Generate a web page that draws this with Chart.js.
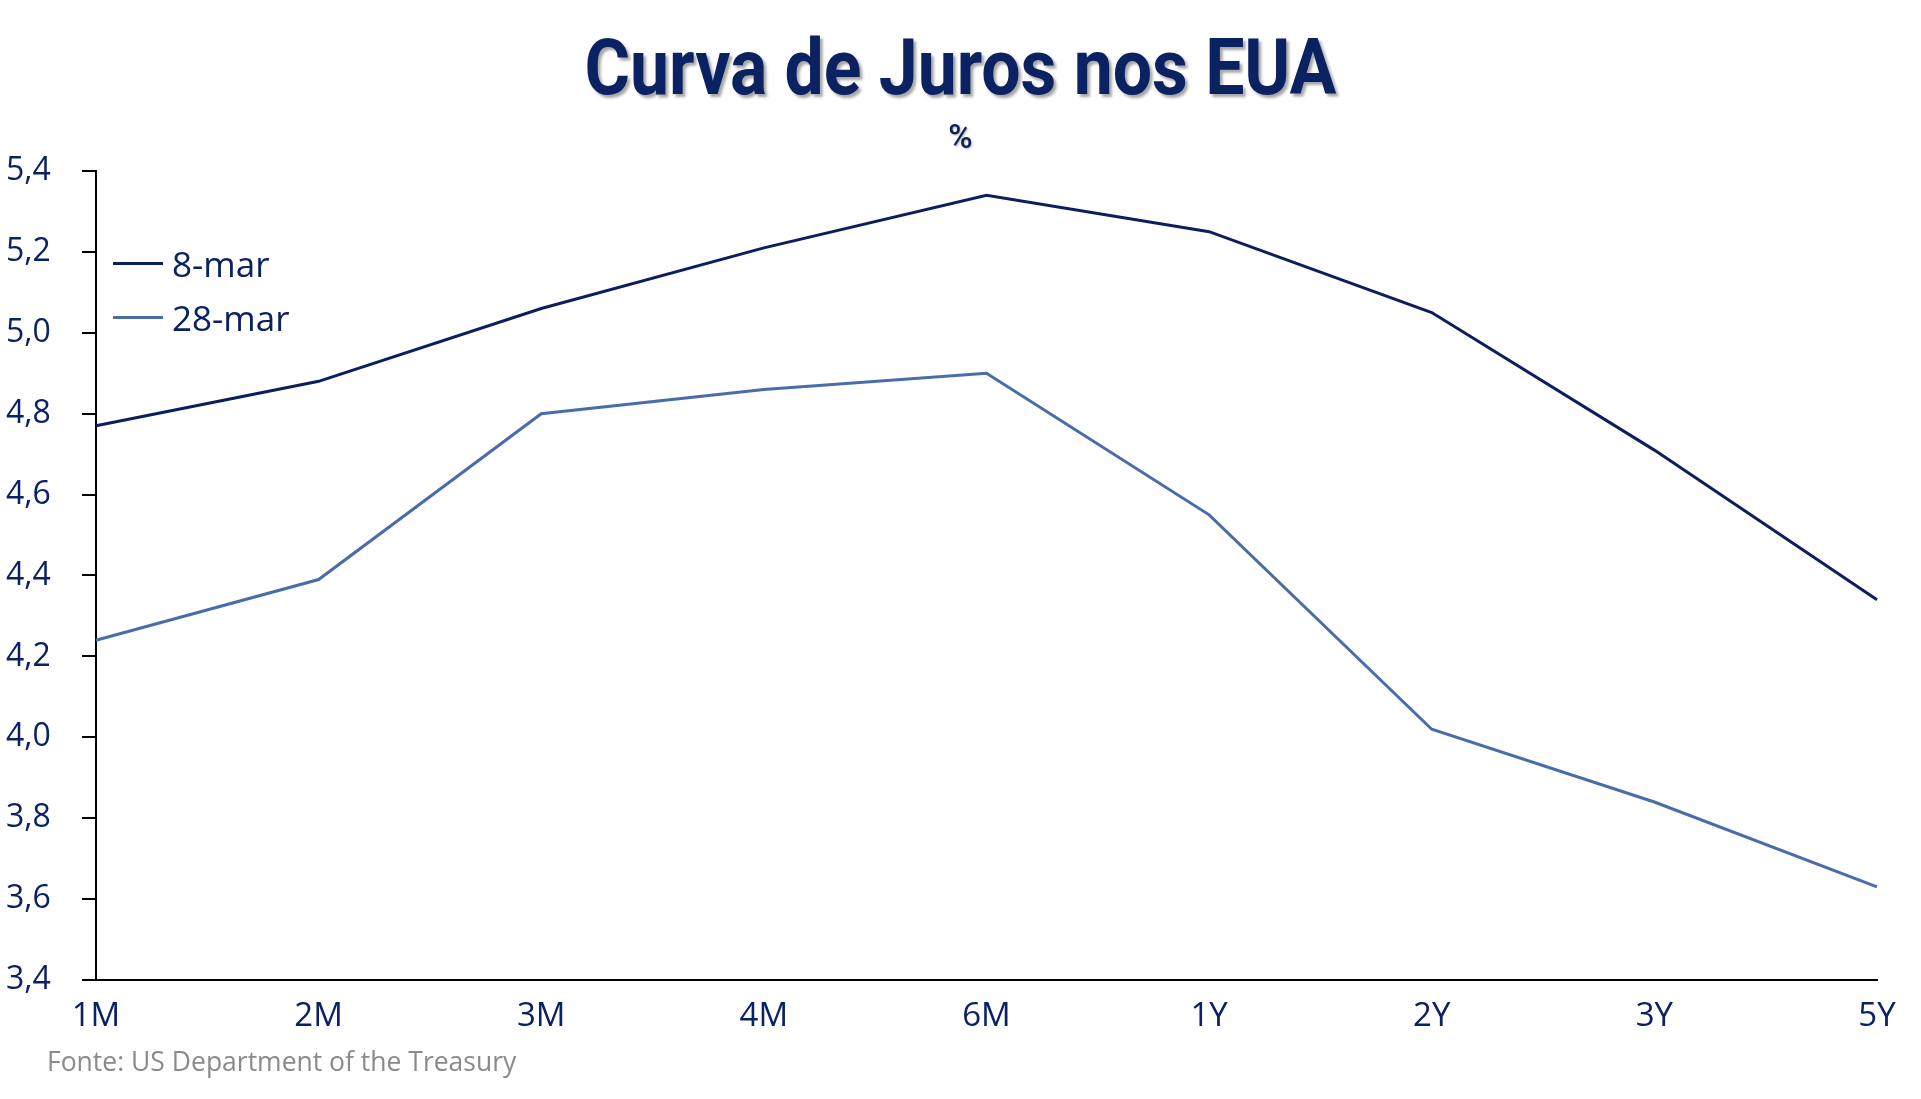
<!DOCTYPE html>
<html>
<head>
<meta charset="utf-8">
<script src="https://cdn.jsdelivr.net/npm/chart.js@4.4.0/dist/chart.umd.min.js"></script>
<style>
  html, body { margin: 0; padding: 0; background: #ffffff; }
  body { width: 1921px; height: 1099px; position: relative; overflow: hidden; font-family: "Open Sans", sans-serif; }
  #wrap { position: absolute; left: 0; top: 0; width: 1921px; height: 1099px; }
  #titlebox { position: absolute; left: 0; width: 1921px; top: 22px; text-align: center; }
  #title { display: inline-block; transform: scaleX(0.905); transform-origin: center;
    font-family: "Roboto", sans-serif; font-weight: 700; font-size: 77px;
    color: #0b2262; text-shadow: 3px 3px 3px rgba(0,0,0,0.35); line-height: 1.2; }
  #sub { position: absolute; left: 0; width: 1921px; top: 117px; text-align: center;
    font-family: "Roboto", sans-serif; font-weight: 500; font-size: 33px; color: #0b2262; line-height: 1.2;
    text-shadow: 1px 1px 2px rgba(0,0,0,0.3); }
  #legend { position: absolute; left: 113px; top: 240px; }
  .li { position: absolute; left: 0; white-space: nowrap; height: 40px; }
  .li .sw { position: absolute; left: 0; width: 50px; top: 0; }
  .li .tx { position: absolute; left: 59px; top: 0; transform: translateY(-50%); font-size: 35px; color: #0b2262; font-family: "Open Sans", sans-serif; }
  #source { position: absolute; left: 47px; top: 1043px; font-size: 26.5px; color: #8a8a8a; font-family: "Open Sans", sans-serif; }
</style>
</head>
<body>
<div id="wrap"><canvas id="c" width="1921" height="1099"></canvas></div>
<div id="titlebox"><div id="title">Curva de Juros nos EUA</div></div>
<div id="sub">%</div>
<div id="legend"></div>
<div id="source">Fonte: US Department of the Treasury</div>
<script>
const categories = ["1M", "2M", "3M", "4M", "6M", "1Y", "2Y", "3Y", "5Y"];
const seriesNames = ["8-mar", "28-mar"];
const mar8 = [4.77, 4.88, 5.06, 5.21, 5.34, 5.25, 5.05, 4.71, 4.34];
const mar28 = [4.24, 4.39, 4.80, 4.86, 4.90, 4.55, 4.02, 3.84, 3.63];
const yTicks = [3.4, 3.6, 3.8, 4.0, 4.2, 4.4, 4.6, 4.8, 5.0, 5.2, 5.4];

const colors = ["#0b1f5e", "#4a6cab"];
const textColor = "#0b2262";

const datasets = [mar8, mar28].map((d, i) => ({
  label: seriesNames[i],
  data: d,
  borderColor: colors[i],
  backgroundColor: colors[i],
  borderWidth: 3,
  pointRadius: 0,
  tension: 0,
  fill: false
}));

// HTML legend
const leg = document.getElementById('legend');
seriesNames.forEach((n, i) => {
  const li = document.createElement('div');
  li.className = 'li';
  li.style.top = (23 + i * 54) + 'px';
  li.innerHTML = '<div class="sw" style="border-top:3px solid ' + colors[i] + ';margin-top:-1.5px"></div><div class="tx">' + n + '</div>';
  leg.appendChild(li);
});

new Chart(document.getElementById('c'), {
  type: 'line',
  data: { labels: categories, datasets },
  options: {
    responsive: false,
    animation: false,
    devicePixelRatio: 1,
    layout: { padding: { left: 6, right: 44, top: 171, bottom: 40 } },
    plugins: { legend: { display: false }, tooltip: { enabled: false }, title: { display: false } },
    scales: {
      x: {
        type: 'category',
        offset: false,
        grid: { display: false, drawTicks: false },
        border: { display: true, color: '#000000', width: 2 },
        ticks: { color: textColor, font: { family: 'Open Sans', size: 33 }, padding: 17, maxRotation: 0, autoSkip: false },
        afterFit: (s) => { s.height = 79; }
      },
      y: {
        min: 3.4, max: 5.4,
        afterBuildTicks: (s) => { s.ticks = yTicks.map(v => ({ value: v })); },
        grid: { display: true, drawOnChartArea: false, drawTicks: true, tickLength: 14, color: '#000000', lineWidth: 2 },
        border: { display: true, color: '#000000', width: 2 },
        ticks: { color: textColor, font: { family: 'Open Sans', size: 32 }, crossAlign: 'far', padding: 6,
          callback: (v) => Number(v).toFixed(1).replace('.', ',') },
        afterFit: (s) => { s.width = 90; }
      }
    }
  }
});
</script>
</body>
</html>
